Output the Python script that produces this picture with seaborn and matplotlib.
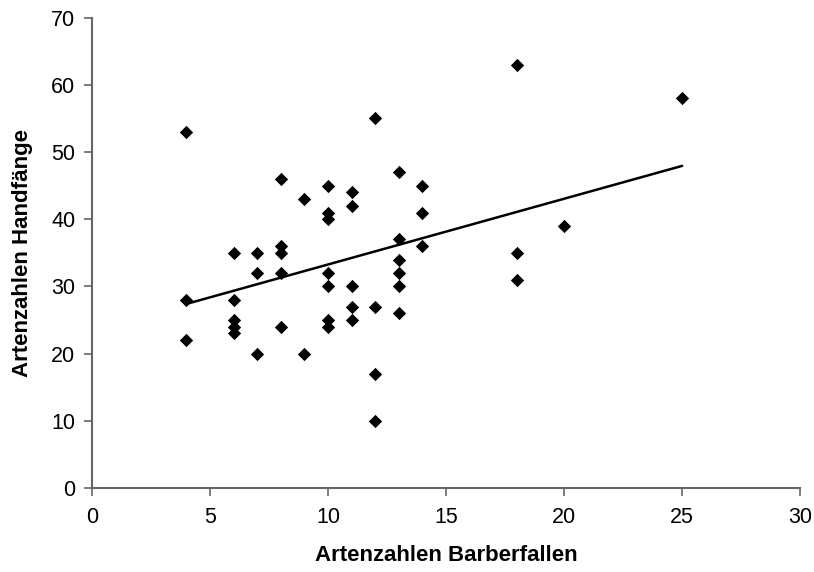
import numpy as np
import pandas as pd
import seaborn as sns
import matplotlib.pyplot as plt

# Artenzahlen je Standort
barber = [4, 4, 4,
          6, 6, 6, 6, 6,
          7, 7, 7,
          8, 8, 8, 8, 8,
          9, 9,
          10, 10, 10, 10, 10, 10, 10,
          11, 11, 11, 11, 11,
          12, 12, 12, 12,
          13, 13, 13, 13, 13, 13,
          14, 14, 14,
          18, 18, 18,
          20,
          25]
hand = [53, 28, 22,
        35, 28, 25, 24, 23,
        35, 32, 20,
        46, 36, 35, 32, 24,
        43, 20,
        45, 41, 40, 32, 30, 25, 24,
        44, 42, 30, 27, 25,
        55, 27, 17, 10,
        47, 37, 34, 32, 30, 26,
        45, 41, 36,
        63, 35, 31,
        39,
        58]

df = pd.DataFrame({"barber": barber, "hand": hand})

sns.set_style("ticks")
plt.rcParams["font.family"] = ["Liberation Sans", "DejaVu Sans"]
plt.rcParams["text.color"] = "black"
plt.rcParams["xtick.color"] = "black"
plt.rcParams["ytick.color"] = "black"
plt.rcParams["axes.labelcolor"] = "black"

fig = plt.figure(figsize=(8.14, 5.72), dpi=100)
ax = fig.add_axes([0.113, 0.147, 0.870, 0.822])

sns.regplot(data=df, x="barber", y="hand", ax=ax, ci=None, truncate=True,
            marker="D",
            scatter_kws={"color": "black", "s": 46, "linewidths": 0, "alpha": 1},
            line_kws={"color": "black", "linewidth": 1.8})

ax.set_xlim(0, 30)
ax.set_ylim(0, 70)
ax.set_xticks(range(0, 31, 5))
ax.set_yticks(range(0, 71, 10))
ax.tick_params(labelsize=15.5, length=6, width=1.2, color="#666666")
ax.tick_params(axis="x", pad=8)
ax.tick_params(axis="y", pad=6)

for side in ["left", "bottom"]:
    ax.spines[side].set_color("#666666")
    ax.spines[side].set_linewidth(1.5)
sns.despine(ax=ax)

ax.set_xlabel("Artenzahlen Barberfallen", fontsize=16, fontweight="bold", labelpad=12)
ax.set_ylabel("Artenzahlen Handfänge", fontsize=16, fontweight="bold", labelpad=13)

fig.savefig("out.png", dpi=100)
